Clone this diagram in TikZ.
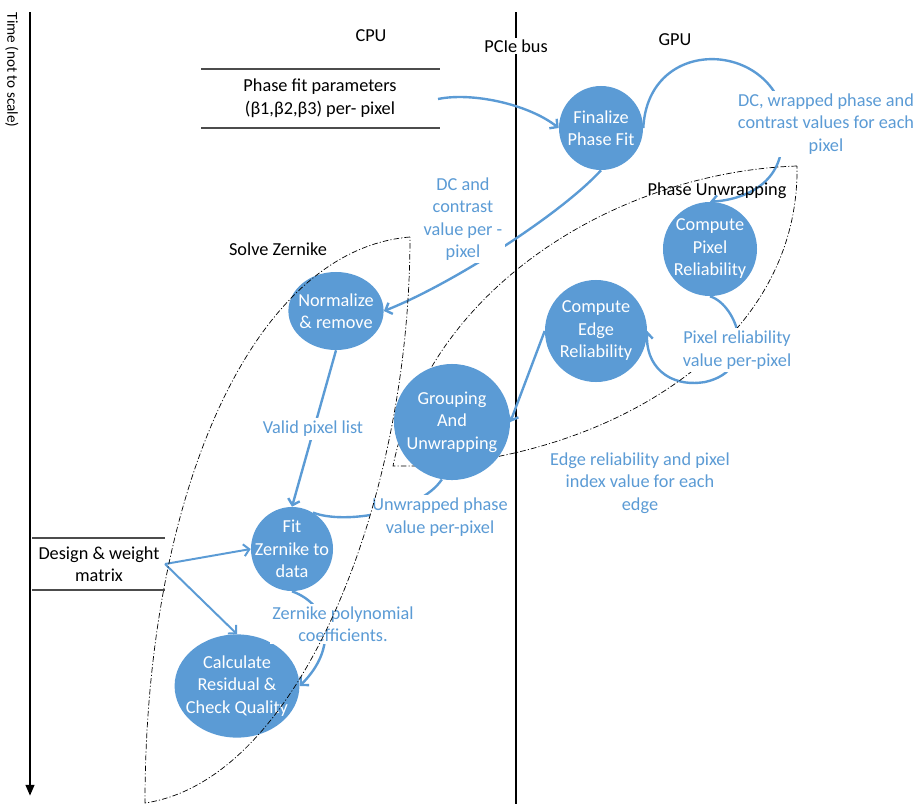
\documentclass[tikz,border=0pt]{standalone}
\usepackage{fontspec}
\setmainfont{Carlito}
\usetikzlibrary{shapes.geometric,arrows.meta}

\definecolor{procblue}{HTML}{5B9BD5}

\pgfdeclarelayer{back}
\pgfdeclarelayer{mid}
\pgfsetlayers{back,mid,main}

\tikzset{
  proc/.style={ellipse, fill=procblue, text=white, align=center, inner sep=-14pt},
  flow/.style={draw=procblue, line width=1.7pt, -{Straight Barb[length=4pt,width=8.5pt]}},
  link/.style={draw=procblue, line width=1.7pt},
  msg/.style={text=procblue, align=center, fill=white, inner sep=2pt},
  region/.style={draw=black, line width=0.5pt, dash pattern=on 4pt off 1.5pt on 0.8pt off 1.5pt},
  datarow/.style={draw=black!70, line width=0.8pt},
}

\begin{document}
\begin{tikzpicture}[x=0.025cm, y=-0.025cm, font=\fontsize{13}{16}\selectfont]
\useasboundingbox (0,0) rectangle (922,804);

% processing steps
\node[proc, minimum width=2.1cm, minimum height=2.1cm] (finalize) at (601,128) {Finalize\\Phase Fit};
\node[proc, minimum width=2.35cm, minimum height=2.35cm] (pixrel) at (710,249) {Compute\\Pixel\\Reliability};
\node[proc, minimum width=2.55cm, minimum height=2.55cm] (edgerel) at (596,331) {Compute\\Edge\\Reliability};
\node[proc, minimum width=2.9cm, minimum height=2.9cm] (group) at (452,422) {Grouping\\And\\Unwrapping};
\node[proc, minimum width=2.38cm, minimum height=1.95cm] (normalize) at (336,311) {Normalize\\\& remove};
\node[proc, minimum width=2.05cm, minimum height=2.1cm] (fitz) at (292,549) {Fit\\Zernike to\\data};
\node[proc, minimum width=3.12cm, minimum height=2.58cm] (residual) at (237,686) {Calculate\\Residual \&\\Check Quality};

% columns and time axis
\node (cpu) at (371,36) {CPU};
\node (gpu) at (675,40) {GPU};
\coordinate (tstart) at (30,12);
\coordinate (tend) at (30,796);
\node[rotate=-90, font=\fontsize{10.8}{12}\selectfont] (timelbl) at (12,70) {Time (not to scale)};
\node (solve) at (278,249) {Solve Zernike};
\node (unwrap) at (717,191) {Phase Unwrapping};

% inputs from the host
\node[align=center] (params) at (320,98) {Phase fit parameters\\(β1,β2,β3) per- pixel};
\node[align=center] (design) at (99,564) {Design \& weight\\matrix};
\coordinate (psrc) at (438,99);
\coordinate (dsrc) at (165,564);

% data passed between the steps
\node[msg] (dcwrap) at (826,124) {DC, wrapped phase and\\contrast values for each\\pixel};
\node[msg] (dcval) at (463,219) {DC and\\contrast\\value per -\\pixel};
\node[msg] (pixval) at (737,350) {Pixel reliability\\value per-pixel};
\node[msg] (edgeval) at (640,483) {Edge reliability and pixel\\index value for each\\edge};
\node[msg] (uwval) at (440,517) {Unwrapped phase\\value per-pixel};
\node[msg] (valid) at (313,429) {Valid pixel list};
\node[msg] (coeff) at (343,624) {Zernike polynomial\\coefficients.};
\coordinate (dcin) at (785,120);
\coordinate (dcout) at (782,140);

\begin{pgfonlayer}{back}
  \node[fill=white, inner sep=1pt] (pcie) at (516,46) {PCIe bus};
  \draw[line width=1pt] (516,12) -- (pcie.north);
  \draw[line width=1pt] (pcie.south) -- (516,804);
  \draw[line width=2pt, -{Triangle[length=8pt,width=6pt]}] (tstart) -- (tend);
  \draw[datarow] (201,69) -- (440,69);
  \draw[datarow] (201,128) -- (440,128);
  \draw[datarow] (32,538) -- (165,538);
  \draw[datarow] (32,590) -- (165,590);

  \draw[flow] (psrc) .. controls (472,92) and (528,104) .. (finalize.west);
  \draw[link] (finalize.east) .. controls (648,35) and (772,40) .. (dcin);
  \draw[flow] (dcout) .. controls (782,185) and (742,200) .. (pixrel.north);
  \draw[flow] (pixrel.south) .. controls (738,305) and (760,370) .. (705,382)
              .. controls (668,388) and (645,365) .. (edgerel.east);
  \draw[flow] (edgerel.west) -- (group.east);
  \draw[flow] (finalize.south) .. controls (560,215) and (450,285) .. (normalize.east);
  \draw[flow] (normalize.south) -- (fitz.north);
  \draw[link] (group.-100) .. controls (420,512) and (345,525) .. (fitz.60);
  \draw[flow] (fitz.south) .. controls (330,605) and (338,648) .. (residual.east);
  \draw[flow, line width=1.4pt] (dsrc) -- (fitz.west);
  \draw[flow, line width=1.4pt] (dsrc) -- (residual.north);
\end{pgfonlayer}

% phase unwrapping group (behind the steps)
\begin{pgfonlayer}{mid}
  \draw[region] (797,166) .. controls (620,172) and (430,285) .. (393,466)
                -- (415,466) .. controls (600,460) and (800,350) .. cycle;
\end{pgfonlayer}

% zernike group
\draw[region] (410,237) .. controls (250,250) and (145,500) .. (145,803)
              .. controls (300,780) and (410,500) .. cycle;

\end{tikzpicture}
\end{document}
